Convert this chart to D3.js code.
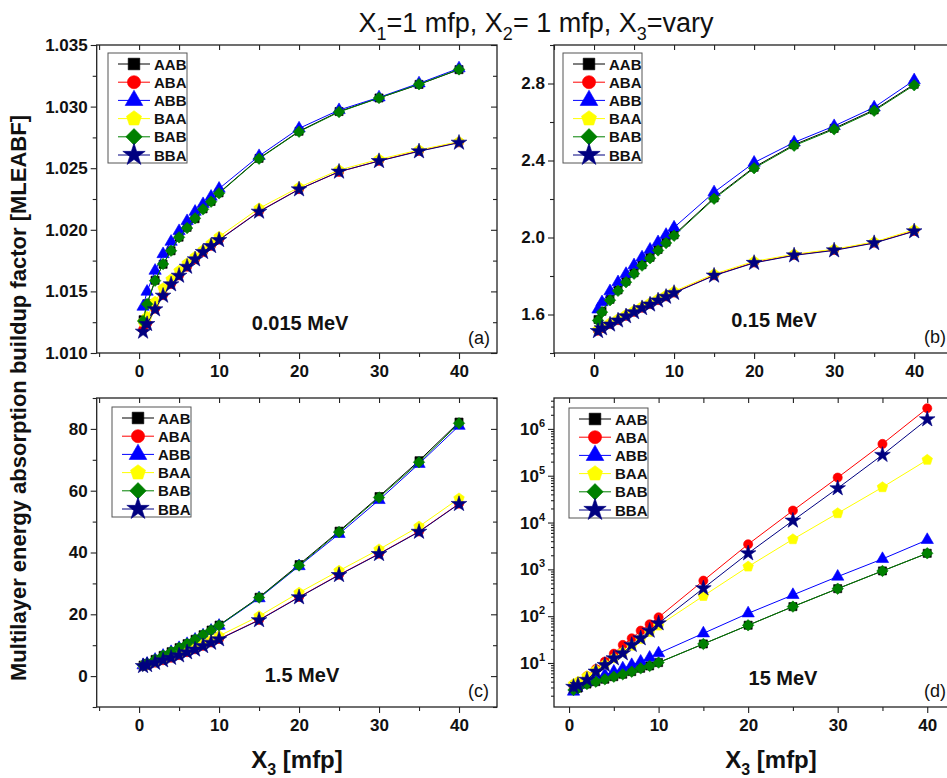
<!DOCTYPE html>
<html><head><meta charset="utf-8">
<script src="https://cdn.jsdelivr.net/npm/d3@7"></script>
<style>body{margin:0;background:#fff}svg{display:block}</style>
</head><body>
<svg id="chart" width="947" height="778"></svg>
<script>
const xValues = [0.5,1,2,3,4,5,6,7,8,9,10,15,20,25,30,35,40];
const seriesNames = ["AAB","ABA","ABB","BAA","BAB","BBA"];
const seriesColors = ["#000000","#ff0000","#0000ff","#ffff00","#008000","#000080"];

// (a) 0.015 MeV
const a_AAB = [1.0127,1.0140,1.0159,1.0172,1.0183,1.0194,1.0202,1.0209,1.0217,1.0223,1.0230,1.0258,1.0280,1.0296,1.0307,1.0318,1.0330];
const a_ABA = [1.0119,1.0124,1.0136,1.0147,1.0156,1.0163,1.0170,1.0176,1.0182,1.0187,1.0192,1.0215,1.0233,1.0247,1.0256,1.0264,1.0271];
const a_ABB = [1.01376,1.01498,1.01668,1.01803,1.01903,1.0199,1.02071,1.02147,1.02209,1.02269,1.02334,1.02599,1.02823,1.02972,1.03075,1.03189,1.03311];
const a_BAA = [1.01254,1.01295,1.01416,1.01525,1.01598,1.01668,1.01728,1.01782,1.01836,1.0189,1.01944,1.02174,1.02345,1.02485,1.02572,1.02648,1.02715];
const a_BAB = [1.0126,1.01397,1.01587,1.01722,1.0183,1.01939,1.02014,1.02093,1.02166,1.02228,1.02296,1.02577,1.02796,1.02956,1.0307,1.03181,1.03302];
const a_BBA = [1.01173,1.01235,1.01354,1.01465,1.01557,1.01627,1.017,1.0176,1.0182,1.01868,1.01917,1.02147,1.02328,1.02472,1.02558,1.02637,1.02707];

// (b) 0.15 MeV
const b_AAB = [1.574,1.617,1.679,1.728,1.773,1.817,1.859,1.897,1.938,1.976,2.014,2.206,2.365,2.482,2.567,2.663,2.796];
const b_ABA = [1.516,1.530,1.550,1.571,1.593,1.614,1.635,1.654,1.675,1.694,1.714,1.804,1.870,1.909,1.935,1.973,2.034];
const b_ABB = [1.626,1.664,1.721,1.768,1.811,1.856,1.897,1.937,1.976,2.014,2.052,2.235,2.389,2.494,2.579,2.676,2.817];
const b_BAA = [1.522,1.536,1.556,1.577,1.599,1.620,1.641,1.660,1.681,1.700,1.720,1.810,1.876,1.913,1.939,1.977,2.040];
const b_BAB = [1.569,1.612,1.674,1.723,1.768,1.812,1.854,1.892,1.933,1.971,2.009,2.201,2.360,2.477,2.562,2.658,2.791];
const b_BBA = [1.514,1.528,1.548,1.569,1.591,1.612,1.633,1.652,1.673,1.692,1.712,1.802,1.868,1.907,1.933,1.971,2.032];

// (c) 1.5 MeV
const c_AAB = [3.56,4.1,5.4,6.7,7.9,9.2,10.5,11.9,13.4,14.9,16.5,25.5,36.1,46.9,58.1,69.7,82.2];
const c_ABA = [3.3,3.6,4.35,5.15,5.95,6.8,7.75,8.7,9.8,10.9,12.0,18.2,25.6,32.8,39.6,46.8,55.8];
const c_ABB = [3.5,4.0,5.3,6.6,7.8,9.1,10.4,11.8,13.2,14.7,16.3,25.2,35.6,46.0,57.0,68.7,81.0];
const c_BAA = [3.4,3.8,4.6,5.5,6.4,7.3,8.3,9.3,10.4,11.6,13.0,19.4,27.0,34.1,41.0,48.4,57.5];
const c_BAB = [3.5,4.05,5.35,6.65,7.85,9.15,10.45,11.85,13.35,14.85,16.4,25.4,35.8,46.6,57.8,69.2,81.8];
const c_BBA = [3.24,3.56,4.3,5.1,5.9,6.7,7.7,8.6,9.7,10.8,11.9,18.1,25.5,32.7,39.5,46.7,55.7];

// (d) 15 MeV
const d_AAB = [2.7,2.9,3.55,4.0,4.5,5.1,5.75,6.55,7.7,8.65,10.2,25.5,64,160,387,925,2200];
const d_ABA = [3.24,3.8,5.25,7.41,10.7,15.8,24.3,33.7,49,67,94.6,574,3440,18000,91200,478000,2760000];
const d_ABB = [2.45,3.39,4.17,4.7,5.55,6.53,7.69,9.06,10.7,13,16.1,43,115,284,700,1667,4250];
const d_BAA = [3.55,3.98,5.25,7.08,9.33,12.6,17,23.4,32.4,45.7,62.8,270,1143,4390,15800,56700,218000];
const d_BAB = [2.65,2.88,3.56,3.99,4.48,5.1,5.73,6.53,7.69,8.63,10.2,25.5,63.8,160,387,925,2200];
const d_BBA = [3.09,3.39,4.37,6.53,9.06,12.6,16.1,24.3,33.7,49,70.5,394,2200,11000,54000,278000,1600000];

// ticks
const xTicks = [0,10,20,30,40];
const xMinorTicks = [-5,5,15,25,35];
const yTicksA = [1.010,1.015,1.020,1.025,1.030,1.035];
const yMinorA = [1.0125,1.0175,1.0225,1.0275,1.0325];
const yTicksB = [1.6,2.0,2.4,2.8];
const yMinorB = [1.4,1.8,2.2,2.6,3.0];
const yTicksC = [0,20,40,60,80];
const yMinorC = [-10,10,30,50,70,90];
const yTicksD = [1e1,1e2,1e3,1e4,1e5,1e6];
const energyLabels = ["0.015 MeV","0.15 MeV","1.5 MeV","15 MeV"];
const panelTags = ["(a)","(b)","(c)","(d)"];
const titleParts = ["X","1","=1 mfp, X","2","= 1 mfp, X","3","=vary"];
const yTitle = "Multilayer energy absorption buildup factor [MLEABF]";

const panelData = [
  [a_AAB,a_ABA,a_ABB,a_BAA,a_BAB,a_BBA],
  [b_AAB,b_ABA,b_ABB,b_BAA,b_BAB,b_BBA],
  [c_AAB,c_ABA,c_ABB,c_BAA,c_BAB,c_BBA],
  [d_AAB,d_ABA,d_ABB,d_BAA,d_BAB,d_BBA]
];

const FONT = "'Liberation Sans', Arial, Helvetica, sans-serif";
const svg = d3.select("#chart").style("font-family", FONT);
svg.append("rect").attr("width",947).attr("height",778).attr("fill","#fff");

// marker shapes
const pentagon = {draw(ctx,size){const r=Math.sqrt(size/2.378);for(let i=0;i<5;i++){const a=-Math.PI/2+i*2*Math.PI/5;const x=r*Math.cos(a),y=r*Math.sin(a);i?ctx.lineTo(x,y):ctx.moveTo(x,y);}ctx.closePath();}};
const diamond = {draw(ctx,size){const r=Math.sqrt(size/2);ctx.moveTo(0,-r);ctx.lineTo(r,0);ctx.lineTo(0,r);ctx.lineTo(-r,0);ctx.closePath();}};
const shapes = [d3.symbolSquare,d3.symbolCircle,d3.symbolTriangle,pentagon,diamond,d3.symbolStar];
const shapeScale = [1,1,1,1.1,1,1.15];

const layout = [
  {left:96.7,right:497,top:45,bottom:353,xd:[-5.3,44.75],yd:[1.010,1.035],log:false,yt:yTicksA,ym:yMinorA,fmt:d3.format(".3f"),
   leg:[108,53],energy:[300,330],tag:[490,344,"end"]},
  {left:554,right:955,top:45,bottom:353,xd:[-5.0,45.1],yd:[1.4,3.0],log:false,yt:yTicksB,ym:yMinorB,fmt:d3.format(".1f"),
   leg:[563,53],energy:[774,327],tag:[946,343,"end"]},
  {left:96.7,right:497,top:398,bottom:707,xd:[-5.3,44.75],yd:[-10,90],log:false,yt:yTicksC,ym:yMinorC,fmt:d3.format("d"),
   leg:[112,407],energy:[302,682],tag:[489,697,"end"]},
  {left:554,right:955,top:398,bottom:707,xd:[-1.68,43.1],yd:[Math.pow(10,0.06),Math.pow(10,6.66)],log:true,yt:yTicksD,ym:null,fmt:null,
   leg:[569,408],energy:[783,685],tag:[946,697,"end"]}
];

const axisColor = "#222";

layout.forEach((L,pi)=>{
  const x = d3.scaleLinear().domain(L.xd).range([L.left,L.right]);
  const y = (L.log ? d3.scaleLog() : d3.scaleLinear()).domain(L.yd).range([L.bottom,L.top]);
  const g = svg.append("g");

  let yMinor = L.ym;
  if (L.log){
    yMinor = [];
    for(let e=0;e<=6;e++) for(let m=2;m<=9;m++){const v=m*Math.pow(10,e); if(v>=L.yd[0]&&v<=L.yd[1]) yMinor.push(v);}
  }
  const xMinor = xMinorTicks.filter(v=>v>=L.xd[0]-1e-9&&v<=L.xd[1]);

  const gb = g.append("g").attr("transform",`translate(0,${L.bottom})`);
  gb.call(d3.axisBottom(x).tickValues(xTicks).tickSize(6).tickPadding(6).tickFormat(d3.format("d")));
  gb.append("g").call(d3.axisBottom(x).tickValues(xMinor).tickSize(4).tickFormat(""));
  const gt = g.append("g").attr("transform",`translate(0,${L.top})`);
  gt.call(d3.axisTop(x).tickValues(xTicks.concat(xMinor)).tickSize(-5).tickFormat(""));
  const gl = g.append("g").attr("transform",`translate(${L.left},0)`);
  if (L.log){
    gl.call(d3.axisLeft(y).tickValues(L.yt).tickSize(6).tickPadding(4).tickFormat(""));
  } else {
    gl.call(d3.axisLeft(y).tickValues(L.yt).tickSize(6).tickPadding(3).tickFormat(L.fmt));
  }
  gl.append("g").call(d3.axisLeft(y).tickValues(yMinor).tickSize(L.log?3:4).tickFormat(""));
  const gr = g.append("g").attr("transform",`translate(${L.right},0)`);
  gr.call(d3.axisRight(y).tickValues(L.yt).tickSize(-6).tickFormat(""));
  if(!L.log) gr.append("g").call(d3.axisRight(y).tickValues(yMinor).tickSize(-4).tickFormat(""));

  g.selectAll(".domain").remove();
  g.selectAll(".tick line").attr("stroke",axisColor).attr("stroke-width",1.1);
  g.selectAll(".tick text").attr("font-family",FONT).attr("font-size",17).attr("font-weight","bold").attr("fill","#111");

  if (L.log){
    const lab = gl.selectAll(".tickLab").data(L.yt).enter().append("text")
      .attr("x",-9).attr("y",d=>y(d)+6).attr("text-anchor","end")
      .attr("font-size",17).attr("font-weight","bold").attr("fill","#111");
    lab.append("tspan").text("10");
    lab.append("tspan").attr("dy",-8).attr("font-size",11).text(d=>Math.round(Math.log10(d)));
  }

  g.append("rect").attr("x",L.left).attr("y",L.top).attr("width",L.right-L.left).attr("height",L.bottom-L.top)
    .attr("fill","none").attr("stroke",axisColor).attr("stroke-width",1.3);

  const line = d3.line().x((d,i)=>x(xValues[i])).y(d=>y(d));
  panelData[pi].forEach((vals,si)=>{
    const col = seriesColors[si];
    g.append("path").attr("d",line(vals)).attr("fill","none").attr("stroke",col).attr("stroke-width",1);
    const sym = d3.symbol().type(shapes[si]).size(66*shapeScale[si]);
    g.selectAll(null).data(vals).enter().append("path")
      .attr("d",sym).attr("transform",(d,i)=>`translate(${x(xValues[i])},${y(d)})`)
      .attr("fill",col).attr("stroke",col).attr("stroke-width",0.6);
  });

  const [lx,ly] = L.leg;
  const lg = g.append("g");
  lg.append("rect").attr("x",lx).attr("y",ly).attr("width",79).attr("height",110)
    .attr("fill","#fff").attr("stroke","#555").attr("stroke-width",1);
  seriesNames.forEach((nm,si)=>{
    const cy = ly + 11 + si*18.2;
    lg.append("line").attr("x1",lx+10).attr("x2",lx+42).attr("y1",cy).attr("y2",cy)
      .attr("stroke",seriesColors[si]).attr("stroke-width",1);
    lg.append("path").attr("d",d3.symbol().type(shapes[si]).size(135*shapeScale[si]))
      .attr("transform",`translate(${lx+26},${cy})`).attr("fill",seriesColors[si]).attr("stroke",seriesColors[si]).attr("stroke-width",0.6);
    lg.append("text").attr("x",lx+46).attr("y",cy+5.5).attr("font-size",15).attr("font-weight","bold").attr("fill","#111").text(nm);
  });

  g.append("text").attr("x",L.energy[0]).attr("y",L.energy[1]).attr("text-anchor","middle")
    .attr("font-size",20).attr("font-weight","bold").attr("fill","#111").text(energyLabels[pi]);
  g.append("text").attr("x",L.tag[0]).attr("y",L.tag[1]).attr("text-anchor",L.tag[2])
    .attr("font-size",18).attr("fill","#111").text(panelTags[pi]);
});

const tt = svg.append("text").attr("x",536).attr("y",32).attr("text-anchor","middle")
  .attr("font-size",27).attr("fill","#111");
titleParts.forEach((p,i)=>{
  const sub = i%2===1;
  tt.append("tspan").attr("dy", sub?8:(i>0?-8:0)).attr("font-size",sub?18:27).text(p);
});

svg.append("text").attr("transform","translate(26,398) rotate(-90)").attr("text-anchor","middle")
  .attr("font-size",22).attr("font-weight","bold").attr("fill","#111").text(yTitle);

[297,771].forEach(cx=>{
  const t = svg.append("text").attr("x",cx).attr("y",768).attr("text-anchor","middle")
    .attr("font-size",24).attr("font-weight","bold").attr("fill","#111");
  t.append("tspan").text("X");
  t.append("tspan").attr("dy",7).attr("font-size",16).text("3");
  t.append("tspan").attr("dy",-7).text(" [mfp]");
});
</script>
</body></html>
